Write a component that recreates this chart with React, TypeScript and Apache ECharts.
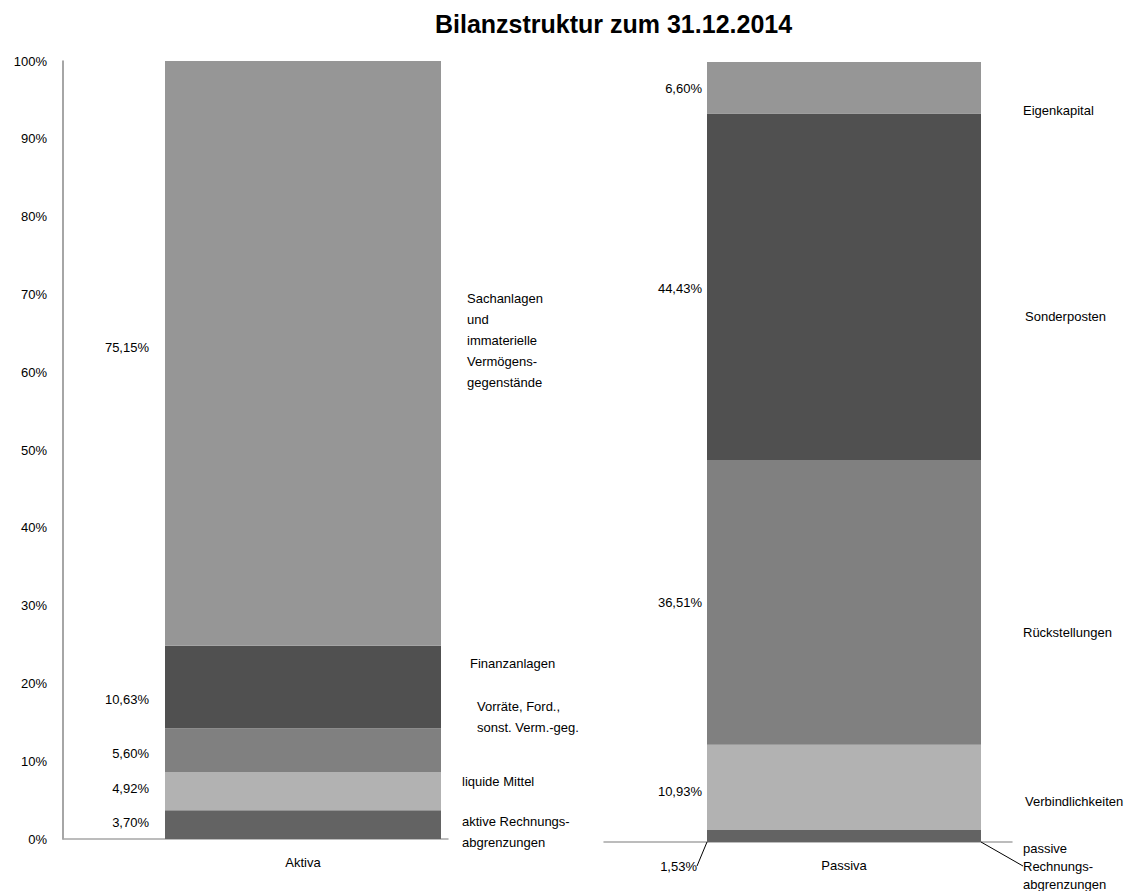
import React, { useEffect, useRef } from 'react';
import * as echarts from 'echarts';

// ---- data ----
const chartTitle = 'Bilanzstruktur zum 31.12.2014';
const aktivaCategory = 'Aktiva';
const passivaCategory = 'Passiva';
const aktivaNames = [
  'aktive Rechnungs-\nabgrenzungen',
  'liquide Mittel',
  'Vorräte, Ford.,\nsonst. Verm.-geg.',
  'Finanzanlagen',
  'Sachanlagen\nund\nimmaterielle\nVermögens-\ngegenstände',
];
const aktivaValues = [3.7, 4.92, 5.6, 10.63, 75.15];
const passivaNames = [
  'passive\nRechnungs-\nabgrenzungen',
  'Verbindlichkeiten',
  'Rückstellungen',
  'Sonderposten',
  'Eigenkapital',
];
const passivaValues = [1.53, 10.93, 36.51, 44.43, 6.6];

// ---- styles / layout ----
const segmentColors = ['#636363', '#b2b2b2', '#808080', '#505050', '#969696'];
const FONT = 'Liberation Sans';
const aktivaValueShift = [[0, -2], [0, -3], [0, 3], [0, 12], [0, -6]];
const aktivaNameShift = [[0, 7], [0, -10], [15, -33], [8, -24], [5, -13]];
const passivaValueShift = [[-5, 30], [0, 4], [0, 0], [0, 2], [0, 1]];
const passivaNameShift = [[0, 30], [2, 14], [0, 30], [2, 30], [0, 23]];

const fmt = (v: number) => v.toFixed(2).replace('.', ',') + '%';

function buildSeries(
  names: string[],
  values: number[],
  axisIndex: number,
  valueDistance: number,
  valueShift: number[][],
  nameDistance: number,
  nameShift: number[][],
  leaderIndex: number | null,
  barWidth: number,
) {
  const out: any[] = [];
  values.forEach((v, i) => {
    out.push({
      type: 'bar',
      name: names[i],
      xAxisIndex: axisIndex,
      yAxisIndex: axisIndex,
      stack: 'values' + axisIndex,
      barWidth,
      barGap: '-100%',
      data: [v],
      itemStyle: { color: segmentColors[i] },
      label: {
        show: true,
        position: 'left',
        distance: valueDistance,
        formatter: () => fmt(v),
        color: '#000',
        fontFamily: FONT,
        fontSize: 13,
      },
      labelLayout: { dx: valueShift[i][0], dy: valueShift[i][1] },
      labelLine: {
        show: leaderIndex === i,
        lineStyle: { color: '#000', width: 1 },
      },
      silent: true,
    });
  });
  values.forEach((v, i) => {
    out.push({
      type: 'bar',
      name: names[i] + ' ',
      xAxisIndex: axisIndex,
      yAxisIndex: axisIndex,
      stack: 'names' + axisIndex,
      barWidth,
      barGap: '-100%',
      data: [v],
      itemStyle: { color: 'rgba(0,0,0,0)' },
      label: {
        show: true,
        position: 'right',
        distance: nameDistance,
        formatter: () => names[i],
        color: '#000',
        fontFamily: FONT,
        fontSize: 13,
        lineHeight: leaderIndex === i ? 18 : 21,
        align: 'left',
      },
      labelLayout: { dx: nameShift[i][0], dy: nameShift[i][1] },
      labelLine: {
        show: leaderIndex === i,
        lineStyle: { color: '#000', width: 1 },
      },
      silent: true,
    });
  });
  return out;
}

const labelStyle = { color: '#000', fontFamily: FONT, fontSize: 13 };

export default function App() {
  const ref = useRef<HTMLDivElement>(null);
  useEffect(() => {
    if (!ref.current) return;
    const chart = echarts.init(ref.current, undefined, { renderer: 'svg' });
    const option: any = {
      animation: false,
      backgroundColor: '#fff',
      title: {
        text: chartTitle,
        left: 430,
        top: 6,
        textStyle: { fontFamily: FONT, fontWeight: 'bold', fontSize: 25, color: '#000' },
      },
      grid: [
        // bar grids (bar centred in its band)
        { left: 63, top: 61, width: 480, height: 778 },
        { left: 604, top: 62, width: 480, height: 780 },
        // axis-line grids
        { left: 63, top: 61, width: 385, height: 778 },
        { left: 604, top: 62, width: 408, height: 780 },
      ],
      xAxis: [
        {
          gridIndex: 0,
          type: 'category',
          data: [aktivaCategory],
          axisLine: { show: false },
          axisTick: { show: false },
          axisLabel: { ...labelStyle, margin: 17 },
        },
        {
          gridIndex: 1,
          type: 'category',
          data: [passivaCategory],
          axisLine: { show: false },
          axisTick: { show: false },
          axisLabel: { ...labelStyle, margin: 17 },
        },
        {
          gridIndex: 2,
          type: 'category',
          data: [''],
          axisLine: { show: true, lineStyle: { color: '#a6a6a6', width: 1.5 } },
          axisTick: { show: false },
          axisLabel: { show: false },
        },
        {
          gridIndex: 3,
          type: 'category',
          data: [''],
          axisLine: { show: true, lineStyle: { color: '#a6a6a6', width: 1.5 } },
          axisTick: { show: false },
          axisLabel: { show: false },
        },
      ],
      yAxis: [
        { gridIndex: 0, type: 'value', min: 0, max: 100, show: false },
        { gridIndex: 1, type: 'value', min: 0, max: 100, show: false },
        {
          gridIndex: 2,
          type: 'value',
          min: 0,
          max: 100,
          interval: 10,
          axisLine: { show: true, lineStyle: { color: '#898989', width: 1.5 } },
          axisTick: { show: false },
          splitLine: { show: false },
          axisLabel: { ...labelStyle, formatter: '{value}%', margin: 16 },
        },
        { gridIndex: 3, type: 'value', min: 0, max: 100, show: false },
      ],
      series: [
        ...buildSeries(
          aktivaNames,
          aktivaValues,
          0,
          16,
          aktivaValueShift,
          21,
          aktivaNameShift,
          null,
          276,
        ),
        ...buildSeries(
          passivaNames,
          passivaValues,
          1,
          5,
          passivaValueShift,
          42,
          passivaNameShift,
          0,
          274,
        ),
      ],
    };
    chart.setOption(option);
    return () => chart.dispose();
  }, []);
  return (
    <div
      ref={ref}
      style={{ position: 'fixed', left: 0, top: 0, width: 1138, height: 891 }}
    />
  );
}
